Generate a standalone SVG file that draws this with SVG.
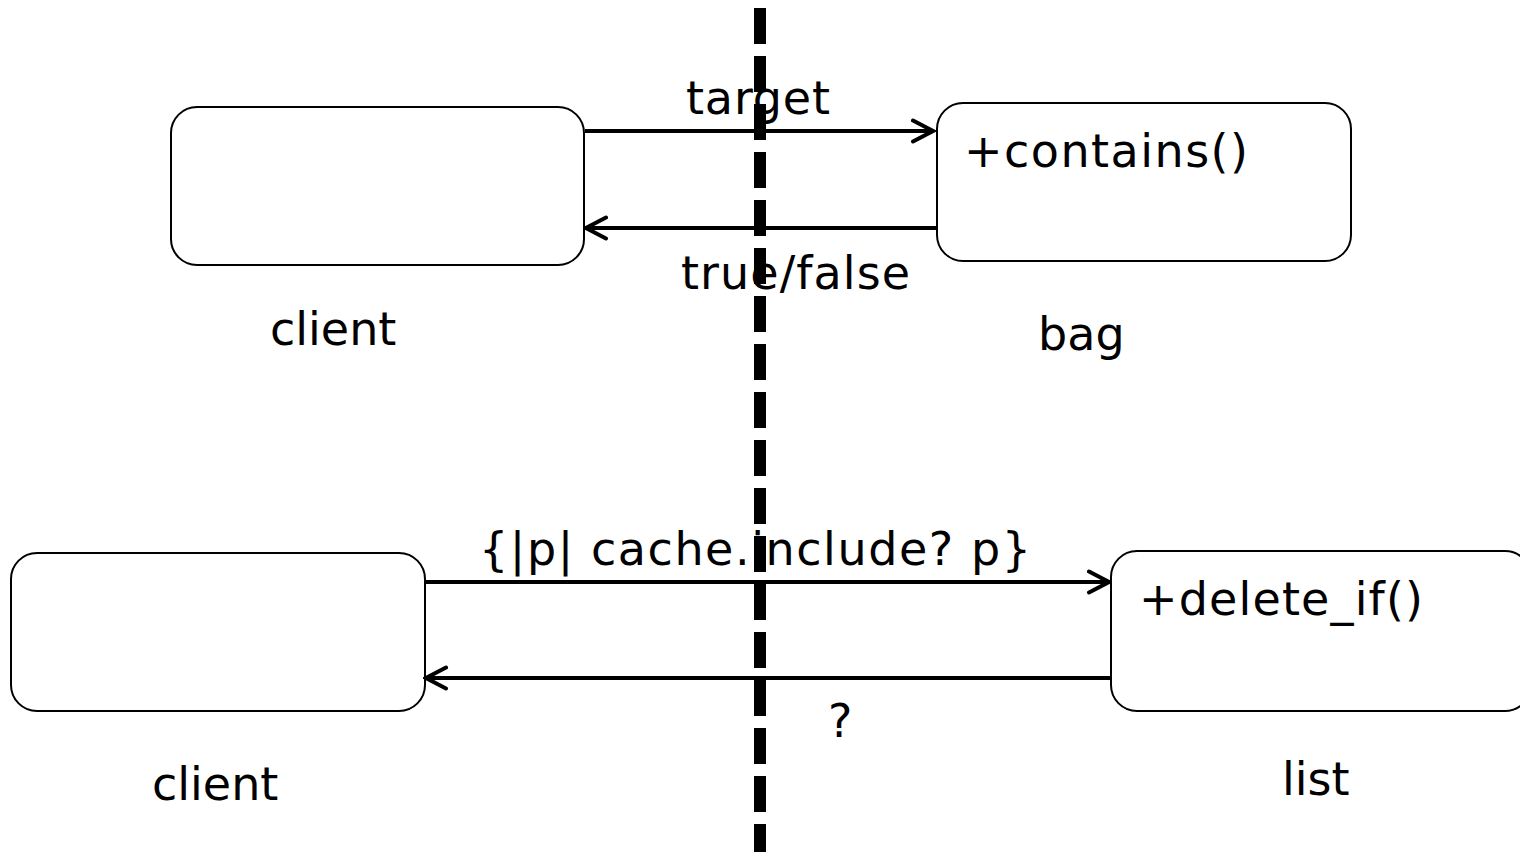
<svg xmlns="http://www.w3.org/2000/svg" width="1520" height="852" viewBox="0 0 1520 852">
<style>
.box{fill:#fff;stroke:#000;stroke-width:2}
.conn{stroke:#000;stroke-width:4;fill:none}
.t{font-family:"DejaVu Sans",Verdana,sans-serif;font-size:46px;fill:#000}
</style>
<defs>
<marker id="arr" viewBox="0 0 26 26" refX="23" refY="13" markerWidth="26" markerHeight="26" markerUnits="userSpaceOnUse" orient="auto">
<path d="M3,2.5 L23,13 L3,23.5" fill="none" stroke="#000" stroke-width="4" stroke-linecap="round" stroke-linejoin="miter"/>
</marker>
</defs>
<rect width="1520" height="852" fill="#fff"/>
<g id="client1"><rect class="box" x="171" y="107" width="413" height="158" rx="26"/><text class="t" x="270" y="345">client</text></g>
<g id="bag"><rect class="box" x="937" y="103" width="414" height="158" rx="26"/><text class="t" x="964" y="167" textLength="284" lengthAdjust="spacing">+contains()</text><text class="t" x="1038" y="350">bag</text></g>
<g id="client2"><rect class="box" x="11" y="553" width="414" height="158" rx="26"/><text class="t" x="152" y="800">client</text></g>
<g id="list"><rect class="box" x="1111" y="551" width="420" height="160" rx="26"/><text class="t" x="1139" y="615" textLength="284" lengthAdjust="spacing">+delete_if()</text><text class="t" x="1282" y="795">list</text></g>
<g id="connectors">
<line class="conn" x1="585" y1="131" x2="933" y2="131" marker-end="url(#arr)"/>
<line class="conn" x1="936" y1="228" x2="586" y2="228" marker-end="url(#arr)"/>
<line class="conn" x1="426" y1="582" x2="1109" y2="582" marker-end="url(#arr)"/>
<line class="conn" x1="1110" y1="678" x2="426" y2="678" marker-end="url(#arr)"/>
<text class="t" x="686" y="114" textLength="144" lengthAdjust="spacing">target</text>
<text class="t" x="681" y="289" textLength="229" lengthAdjust="spacing">true/false</text>
<text class="t" x="479" y="565" textLength="552" lengthAdjust="spacing">{|p| cache.include? p}</text>
<text class="t" x="828" y="737">?</text>
</g>
<line id="boundary" x1="760" y1="8" x2="760" y2="852" stroke="#000" stroke-width="12" stroke-dasharray="36 12"/>
</svg>
